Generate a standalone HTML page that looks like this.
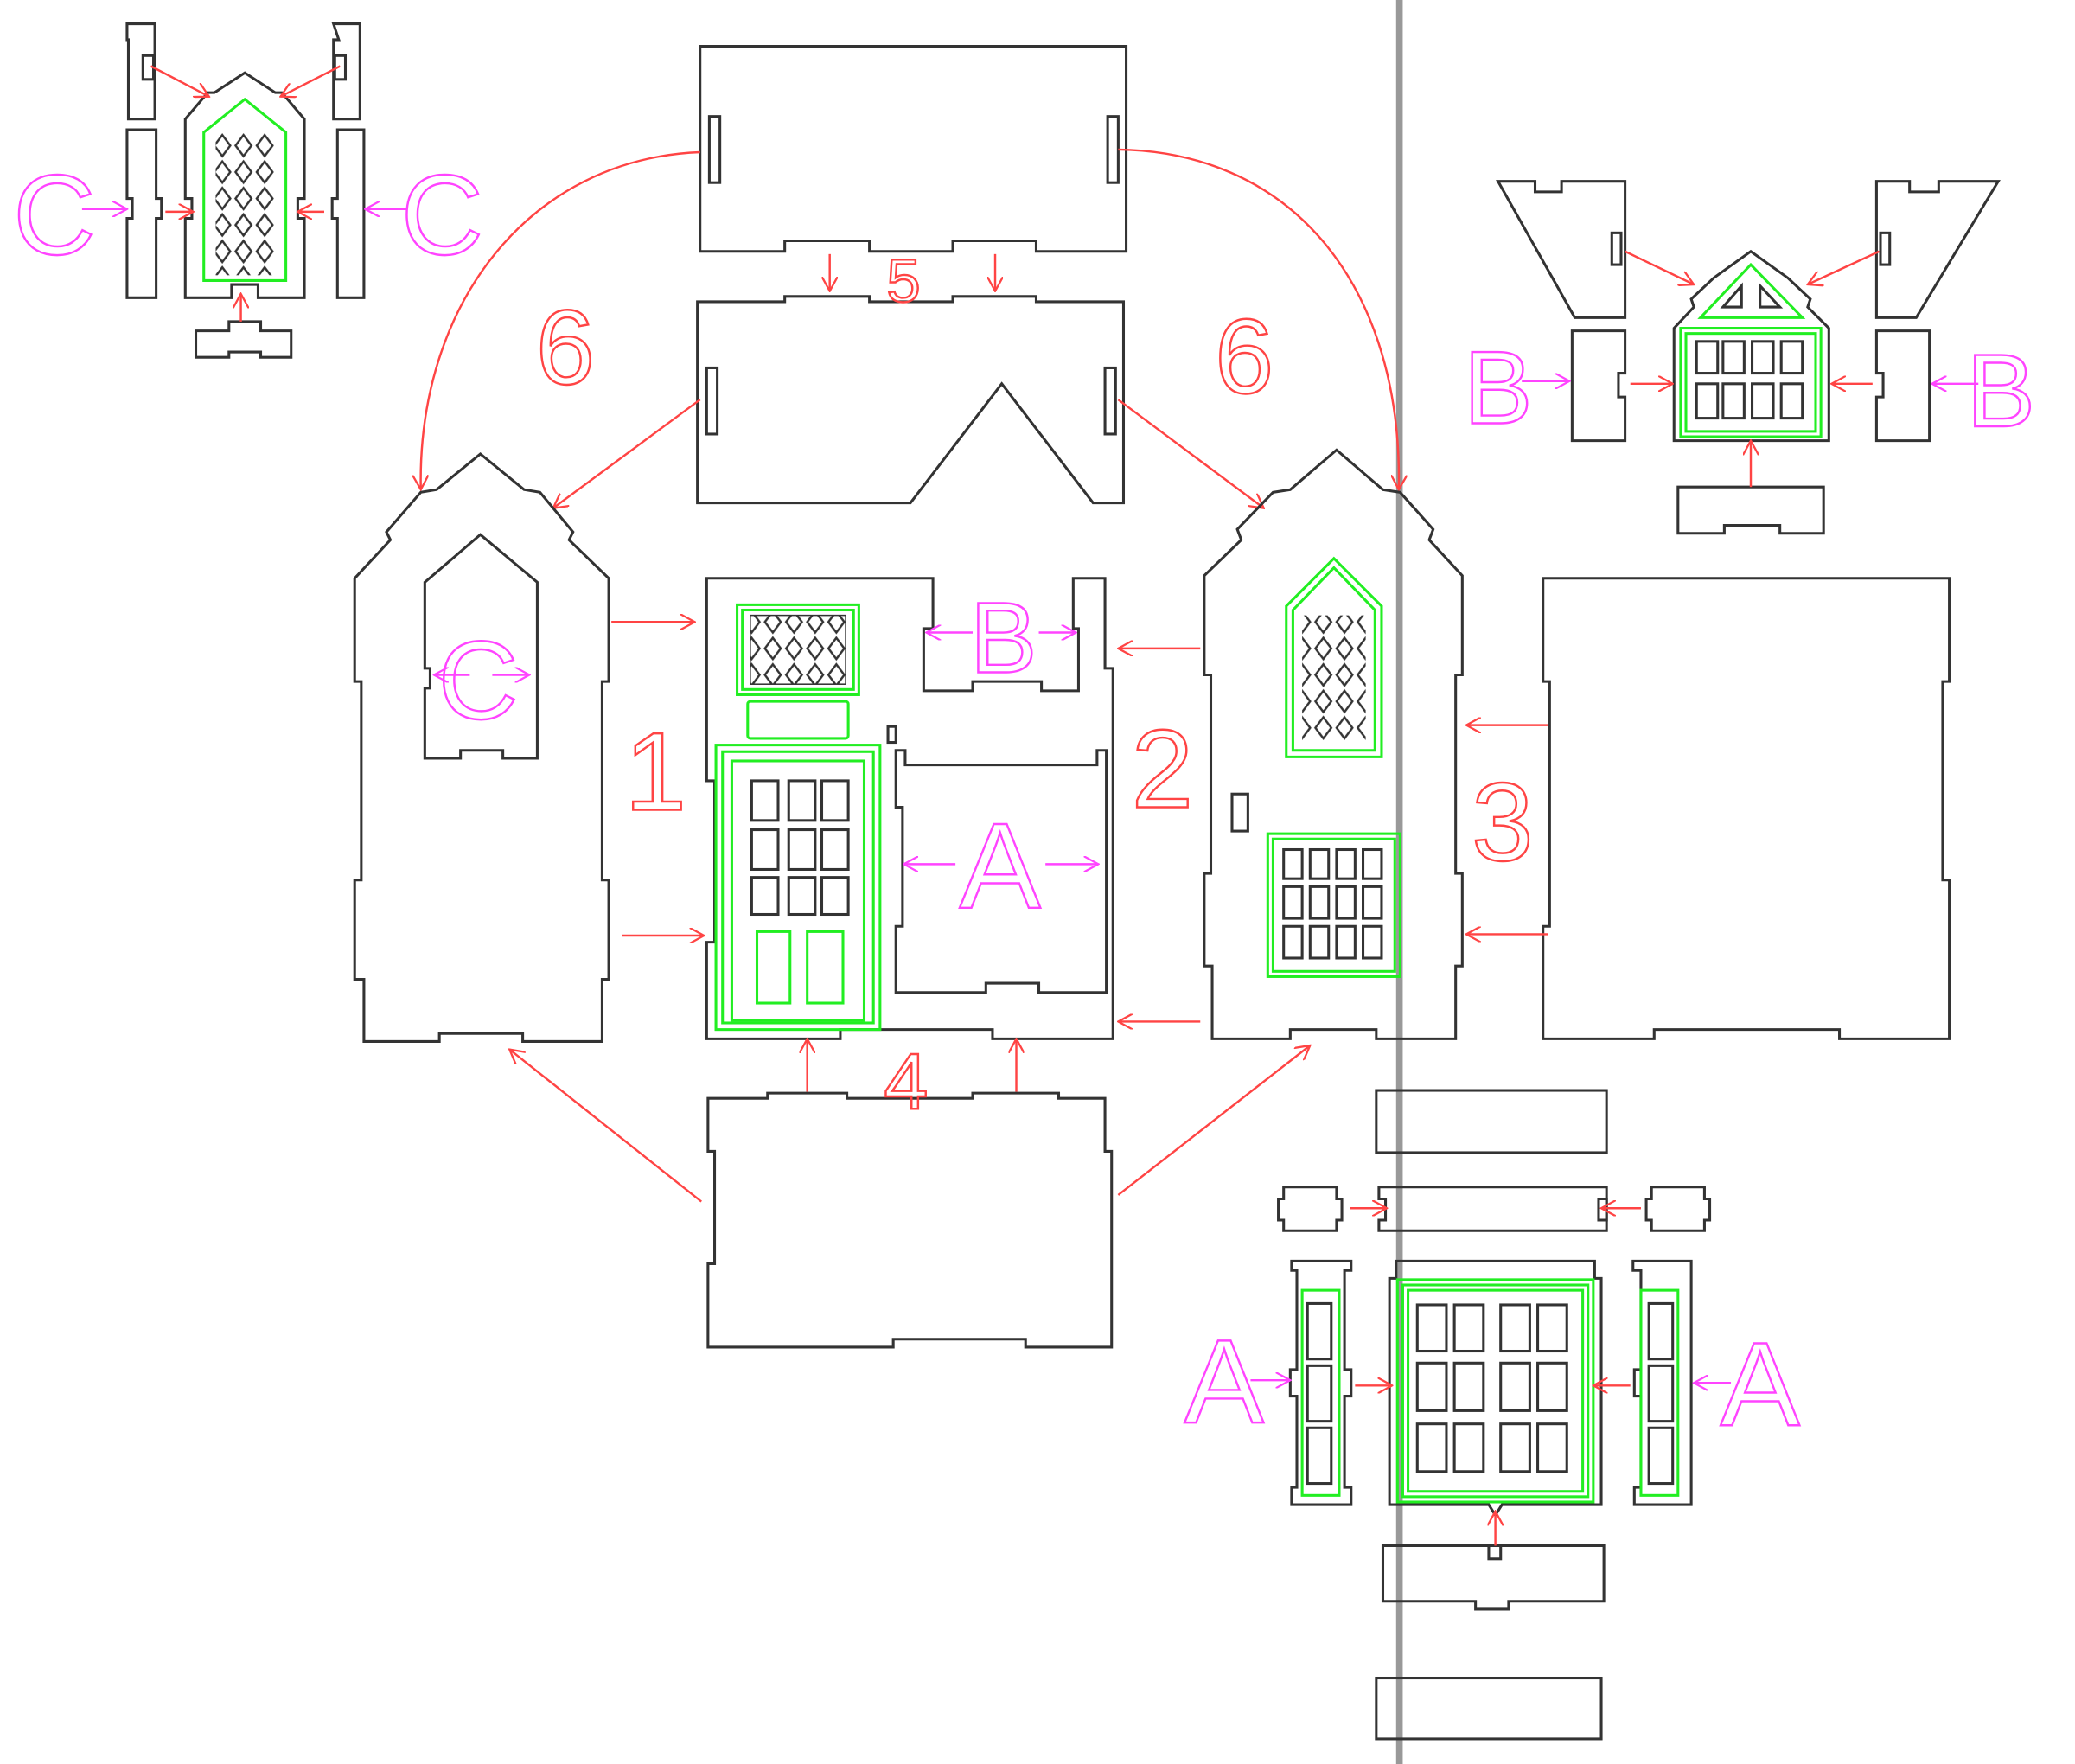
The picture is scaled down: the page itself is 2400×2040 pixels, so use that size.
<!DOCTYPE html>
<html><head><meta charset="utf-8"><style>
html,body{margin:0;padding:0;background:#fff;}
svg{display:block}
.k{fill:none;stroke:#333;stroke-width:2}
.g{fill:none;stroke:#2e2;stroke-width:2}
.r{fill:none;stroke:#f44;stroke-width:1.6}
.t{font-family:"Liberation Sans",sans-serif;fill:none;stroke-width:1.6}
.tr{stroke:#f44}
.tm{stroke:#f4f}
.m{fill:none;stroke:#f4f;stroke-width:1.6}
</style></head><body>
<svg width="2400" height="2040" viewBox="0 0 1568 1333" preserveAspectRatio="none" xmlns="http://www.w3.org/2000/svg">
<defs>
<marker id="a" viewBox="0 0 12 12" refX="11" refY="6" markerWidth="12" markerHeight="12" markerUnits="userSpaceOnUse" orient="auto"><path d="M0,0 L11,6 L0,12" fill="none" stroke="#f44" stroke-width="1.5"/></marker>
<marker id="am" viewBox="0 0 12 12" refX="11" refY="6" markerWidth="12" markerHeight="12" markerUnits="userSpaceOnUse" orient="auto"><path d="M0,0 L11,6 L0,12" fill="none" stroke="#f4f" stroke-width="1.5"/></marker>
<pattern id="lat" width="16" height="20" patternUnits="userSpaceOnUse"><path d="M8,2 L14,10 L8,18 L2,10 Z" fill="none" stroke="#333" stroke-width="1.6"/></pattern>
</defs>

<rect x="1055" y="0" width="5" height="1333" fill="#999"/>

<!-- TOP-LEFT C assembly -->
<path class="k" d="M96,18 H117 V90 H97 V30 H96 Z"/>
<rect class="k" x="108" y="42" width="8" height="18"/>
<path class="k" d="M252,18 H272 V90 H252 V30 H256 Z"/>
<rect class="k" x="253" y="42" width="8" height="18"/>
<path class="k" d="M96,98 H118 V150 H122 V165 H118 V225 H96 V165 H100 V150 H96 Z"/>
<path class="k" d="M255,98 H275 V225 H255 V165 H251 V150 H255 Z"/>
<path class="k" d="M140,90 L157,70 L162,70 L185,55 L208,70 L213,70 L230,90 V150 H225 V165 H230 V225 H195 V215 H175 V225 H140 V165 H145 V150 H140 Z"/>
<path class="g" d="M154,100 L185,75 L216,100 V212 H154 Z"/>
<rect x="163" y="100" width="44" height="108" fill="url(#lat)"/>
<path class="k" d="M148,250 H173 V243 H197 V250 H220 V270 H197 V266 H173 V270 H148 Z"/>
<line class="r" x1="114" y1="50" x2="158" y2="73" marker-end="url(#a)"/>
<line class="r" x1="257" y1="50" x2="212" y2="73" marker-end="url(#a)"/>
<line class="r" x1="125" y1="160" x2="146" y2="160" marker-end="url(#a)"/>
<line class="r" x1="245" y1="160" x2="225" y2="160" marker-end="url(#a)"/>
<line class="r" x1="182" y1="243" x2="182" y2="222" marker-end="url(#a)"/>
<text class="t tm" x="10" y="192" font-size="86">C</text>
<line class="m" x1="62" y1="158" x2="96" y2="158" marker-end="url(#am)"/>
<text class="t tm" x="303" y="192" font-size="86">C</text>
<line class="m" x1="308" y1="158" x2="276" y2="158" marker-end="url(#am)"/>

<!-- TOP panel 5 -->
<path class="k" d="M529,35 H851 V190 H783 V182 H720 V190 H657 V182 H593 V190 H529 Z"/>
<rect class="k" x="536" y="88" width="8" height="50"/>
<rect class="k" x="837" y="88" width="8" height="50"/>
<path class="k" d="M527,228 H593 V224 H657 V228 H720 V224 H783 V228 H849 V380 H826 L757,290 L688,380 H527 Z"/>
<rect class="k" x="534" y="278" width="8" height="50"/>
<rect class="k" x="835" y="278" width="8" height="50"/>
<line class="r" x1="627" y1="192" x2="627" y2="220" marker-end="url(#a)"/>
<line class="r" x1="752" y1="192" x2="752" y2="220" marker-end="url(#a)"/>
<text class="t tr" x="670" y="228" font-size="46">5</text>

<path class="r" d="M529,115 C400,120 315,230 318,370" marker-end="url(#a)"/>
<path class="r" d="M845,113 C980,115 1060,220 1057,370" marker-end="url(#a)"/>
<line class="r" x1="529" y1="302" x2="418" y2="384" marker-end="url(#a)"/>
<line class="r" x1="845" y1="302" x2="955" y2="384" marker-end="url(#a)"/>
<text class="t tr" x="405" y="290" font-size="80">6</text>
<text class="t tr" x="918" y="297" font-size="80">6</text>

<!-- LEFT gable 1 -->
<path class="k" d="M268,437 L295,408 L292,402 L318,372 L330,370 L363,343 L396,370 L408,372 L433,402 L430,408 L460,437 V515 H455 V665 H460 V740 H455 V787 H395 V781 H332 V787 H275 V740 H268 V665 H273 V515 H268 Z"/>
<path class="k" d="M321,440 L363,404 L406,440 V573 H380 V567 H348 V573 H321 V520 H325 V505 H321 Z"/>
<text class="t tm" x="331" y="543" font-size="84">C</text>
<line class="m" x1="355" y1="510" x2="328" y2="510" marker-end="url(#am)"/>
<line class="m" x1="372" y1="510" x2="400" y2="510" marker-end="url(#am)"/>
<text class="t tr" x="472" y="612" font-size="84">1</text>
<line class="r" x1="462" y1="470" x2="525" y2="470" marker-end="url(#a)"/>
<line class="r" x1="470" y1="707" x2="532" y2="707" marker-end="url(#a)"/>

<!-- CENTER front -->
<path class="k" d="M534,437 H705 V475 H698 V522 H735 V515 H787 V522 H815 V475 H811 V437 H835 V505 H841 V785 H750 V778 H635 V785 H534 V712 H540 V590 H534 Z"/>
<rect class="g" x="557" y="457" width="92" height="68"/>
<rect class="g" x="561" y="461" width="84" height="60"/>
<rect x="567" y="465" width="72" height="52" fill="url(#lat)" stroke="#333" stroke-width="1"/>
<rect class="g" x="565" y="530" width="76" height="28" rx="2"/>
<rect class="g" x="541" y="563" width="124" height="215"/>
<rect class="g" x="546" y="568" width="114" height="205"/>
<rect class="g" x="553" y="575" width="100" height="196"/>
<g class="k" stroke-width="1.8">
<rect x="568" y="590" width="20" height="30"/><rect x="596" y="590" width="20" height="30"/><rect x="621" y="590" width="20" height="30"/>
<rect x="568" y="627" width="20" height="30"/><rect x="596" y="627" width="20" height="30"/><rect x="621" y="627" width="20" height="30"/>
<rect x="568" y="663" width="20" height="28"/><rect x="596" y="663" width="20" height="28"/><rect x="621" y="663" width="20" height="28"/>
</g>
<rect class="g" x="572" y="704" width="25" height="54" stroke-width="2.5"/>
<rect class="g" x="610" y="704" width="27" height="54" stroke-width="2.5"/>
<rect class="k" x="671" y="549" width="6" height="12"/>
<path class="k" d="M677,567 H684 V578 H829 V567 H836 V750 H785 V743 H745 V750 H677 V700 H682 V610 H677 Z"/>
<text class="t tm" x="725" y="686" font-size="92">A</text>
<line class="m" x1="722" y1="653" x2="683" y2="653" marker-end="url(#am)"/>
<line class="m" x1="790" y1="653" x2="830" y2="653" marker-end="url(#am)"/>
<text class="t tm" x="733" y="508" font-size="76">B</text>
<line class="m" x1="735" y1="478" x2="700" y2="478" marker-end="url(#am)"/>
<line class="m" x1="785" y1="478" x2="813" y2="478" marker-end="url(#am)"/>
<text class="t tr" x="855" y="610" font-size="84">2</text>
<line class="r" x1="907" y1="490" x2="845" y2="490" marker-end="url(#a)"/>
<line class="r" x1="907" y1="772" x2="845" y2="772" marker-end="url(#a)"/>

<!-- RIGHT gable 2 -->
<path class="k" d="M910,435 L938,408 L935,400 L962,372 L975,370 L1010,340 L1045,370 L1058,372 L1083,400 L1080,408 L1105,435 V510 H1100 V660 H1105 V730 H1100 V785 H1040 V778 H975 V785 H916 V730 H910 V660 H915 V510 H910 Z"/>
<path class="g" d="M972,458 L1008,422 L1044,458 V572 H972 Z"/>
<path class="g" d="M977,461 L1008,429 L1039,461 V567 H977 Z"/>
<rect x="984" y="465" width="48" height="95" fill="url(#lat)"/>
<rect class="k" x="931" y="600" width="12" height="28"/>
<rect class="g" x="958" y="630" width="100" height="108"/>
<rect class="g" x="962" y="634" width="92" height="100"/>
<g class="k" stroke-width="1.8">
<rect x="970" y="642" width="14" height="22"/><rect x="990" y="642" width="14" height="22"/><rect x="1010" y="642" width="14" height="22"/><rect x="1030" y="642" width="14" height="22"/>
<rect x="970" y="670" width="14" height="24"/><rect x="990" y="670" width="14" height="24"/><rect x="1010" y="670" width="14" height="24"/><rect x="1030" y="670" width="14" height="24"/>
<rect x="970" y="700" width="14" height="24"/><rect x="990" y="700" width="14" height="24"/><rect x="1010" y="700" width="14" height="24"/><rect x="1030" y="700" width="14" height="24"/>
</g>

<!-- panel 3 -->
<path class="k" d="M1166,437 H1473 V515 H1468 V665 H1473 V785 H1390 V778 H1250 V785 H1166 V700 H1171 V515 H1166 Z"/>
<text class="t tr" x="1112" y="650" font-size="84">3</text>
<line class="r" x1="1170" y1="548" x2="1108" y2="548" marker-end="url(#a)"/>
<line class="r" x1="1170" y1="706" x2="1108" y2="706" marker-end="url(#a)"/>

<!-- bottom panel 4 -->
<path class="k" d="M535,830 H580 V826 H640 V830 H735 V826 H800 V830 H835 V870 H840 V1018 H775 V1012 H675 V1018 H535 V955 H540 V870 H535 Z"/>
<line class="r" x1="610" y1="825" x2="610" y2="785" marker-end="url(#a)"/>
<line class="r" x1="768" y1="825" x2="768" y2="785" marker-end="url(#a)"/>
<text class="t tr" x="668" y="838" font-size="60">4</text>
<line class="r" x1="530" y1="908" x2="385" y2="793" marker-end="url(#a)"/>
<line class="r" x1="845" y1="903" x2="990" y2="790" marker-end="url(#a)"/>

<!-- TOP-RIGHT B assembly -->
<path class="k" d="M1132,137 H1160 V145 H1180 V137 H1228 V240 H1190 Z"/>
<rect class="k" x="1218" y="176" width="7" height="24"/>
<path class="k" d="M1418,137 H1443 V145 H1465 V137 H1510 L1448,240 H1418 Z"/>
<rect class="k" x="1421" y="176" width="7" height="24"/>
<path class="k" d="M1265,248 L1280,232 L1278,226 L1295,210 L1323,190 L1351,210 L1368,226 L1366,232 L1382,248 V333 H1265 Z"/>
<path class="g" d="M1285,240 L1323,200 L1362,240 Z"/>
<path class="k" d="M1302,232 L1316,216 V232 Z M1330,216 L1345,232 H1330 Z"/>
<rect class="g" x="1270" y="248" width="106" height="82"/>
<rect class="g" x="1274" y="252" width="98" height="74"/>
<g class="k" stroke-width="1.8">
<rect x="1282" y="258" width="16" height="24"/><rect x="1302" y="258" width="16" height="24"/><rect x="1324" y="258" width="16" height="24"/><rect x="1346" y="258" width="16" height="24"/>
<rect x="1282" y="290" width="16" height="26"/><rect x="1302" y="290" width="16" height="26"/><rect x="1324" y="290" width="16" height="26"/><rect x="1346" y="290" width="16" height="26"/>
</g>
<path class="k" d="M1188,250 H1228 V282 H1223 V300 H1228 V333 H1188 Z"/>
<path class="k" d="M1418,250 H1458 V333 H1418 V300 H1423 V282 H1418 Z"/>
<path class="k" d="M1268,368 H1378 V403 H1345 V397 H1303 V403 H1268 Z"/>
<line class="r" x1="1228" y1="190" x2="1280" y2="215" marker-end="url(#a)"/>
<line class="r" x1="1420" y1="190" x2="1366" y2="215" marker-end="url(#a)"/>
<line class="r" x1="1232" y1="290" x2="1264" y2="290" marker-end="url(#a)"/>
<line class="r" x1="1415" y1="290" x2="1384" y2="290" marker-end="url(#a)"/>
<line class="r" x1="1323" y1="368" x2="1323" y2="333" marker-end="url(#a)"/>
<text class="t tm" x="1106" y="320" font-size="78">B</text>
<line class="m" x1="1150" y1="288" x2="1186" y2="288" marker-end="url(#am)"/>
<text class="t tm" x="1486" y="322" font-size="78">B</text>
<line class="m" x1="1495" y1="290" x2="1460" y2="290" marker-end="url(#am)"/>

<!-- BOTTOM-RIGHT A assembly -->
<rect class="k" x="1040" y="824" width="174" height="47"/>
<path class="k" d="M1042,897 H1214 V930 H1042 V922 H1047 V906 H1042 Z"/>
<path class="k" d="M1208,906 H1214 V922 H1208 Z"/>
<path class="k" d="M970,897 H1010 V906 H1014 V922 H1010 V930 H970 V922 H966 V906 H970 Z"/>
<path class="k" d="M1248,897 H1288 V906 H1292 V922 H1288 V930 H1248 V922 H1244 V906 H1248 Z"/>
<line class="r" x1="1020" y1="913" x2="1048" y2="913" marker-end="url(#a)"/>
<line class="r" x1="1240" y1="913" x2="1210" y2="913" marker-end="url(#a)"/>
<path class="k" d="M976,953 H1021 V960 H1016 V1035 H1021 V1055 H1016 V1124 H1021 V1137 H976 V1124 H980 V1055 H975 V1035 H980 V960 H976 Z"/>
<rect class="g" x="984" y="975" width="28" height="155"/>
<rect class="k" x="988" y="985" width="18" height="42"/><rect class="k" x="988" y="1032" width="18" height="42"/><rect class="k" x="988" y="1079" width="18" height="42"/>
<path class="k" d="M1234,953 H1278 V1137 H1235 V1124 H1240 V1055 H1235 V1035 H1240 V960 H1234 Z"/>
<rect class="g" x="1240" y="975" width="28" height="155"/>
<rect class="k" x="1246" y="985" width="18" height="42"/><rect class="k" x="1246" y="1032" width="18" height="42"/><rect class="k" x="1246" y="1079" width="18" height="42"/>
<path class="k" d="M1055,953 H1205 V966 H1210 V1137 H1135 L1130,1145 L1125,1137 H1050 V966 H1055 Z"/>
<rect class="g" x="1056" y="967" width="148" height="168"/>
<rect class="g" x="1060" y="971" width="140" height="160"/>
<rect class="g" x="1064" y="975" width="132" height="152"/>
<g class="k" stroke-width="1.8">
<rect x="1071" y="986" width="22" height="35"/><rect x="1099" y="986" width="22" height="35"/><rect x="1134" y="986" width="22" height="35"/><rect x="1162" y="986" width="22" height="35"/>
<rect x="1071" y="1030" width="22" height="36"/><rect x="1099" y="1030" width="22" height="36"/><rect x="1134" y="1030" width="22" height="36"/><rect x="1162" y="1030" width="22" height="36"/>
<rect x="1071" y="1076" width="22" height="36"/><rect x="1099" y="1076" width="22" height="36"/><rect x="1134" y="1076" width="22" height="36"/><rect x="1162" y="1076" width="22" height="36"/>
</g>
<line class="r" x1="1024" y1="1047" x2="1052" y2="1047" marker-end="url(#a)"/>
<line class="r" x1="1232" y1="1047" x2="1204" y2="1047" marker-end="url(#a)"/>
<text class="t tm" x="895" y="1075" font-size="90">A</text>
<line class="m" x1="945" y1="1043" x2="975" y2="1043" marker-end="url(#am)"/>
<text class="t tm" x="1300" y="1077" font-size="90">A</text>
<line class="m" x1="1308" y1="1045" x2="1280" y2="1045" marker-end="url(#am)"/>
<path class="k" d="M1045,1168 H1212 V1210 H1140 V1216 H1115 V1210 H1045 Z"/>
<rect class="k" x="1125" y="1168" width="9" height="10"/>
<line class="r" x1="1130" y1="1168" x2="1130" y2="1142" marker-end="url(#a)"/>
<rect class="k" x="1040" y="1268" width="170" height="46"/>
</svg>
</body></html>
